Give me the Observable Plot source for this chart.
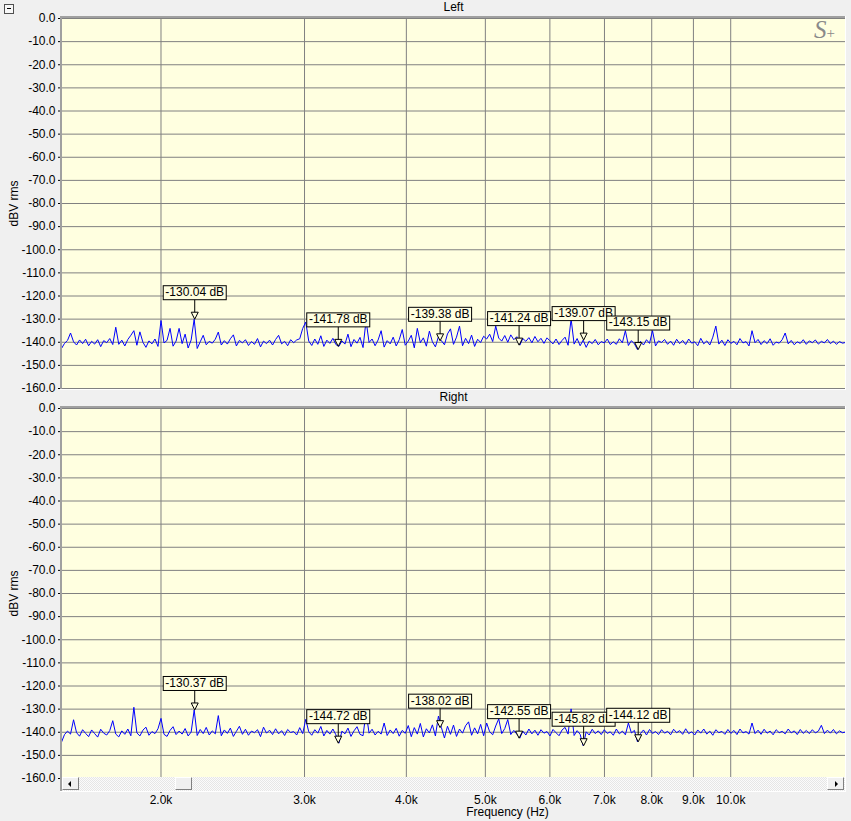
<!DOCTYPE html>
<html>
<head>
<meta charset="utf-8">
<script src="https://cdn.jsdelivr.net/npm/d3@7"></script>
<script src="https://cdn.jsdelivr.net/npm/@observablehq/plot@0.6"></script>
<style>
html, body { margin: 0; padding: 0; background: #f0f0f0; }
#root { position: relative; width: 851px; height: 821px; overflow: hidden; background: #f0f0f0; font-family: "Liberation Sans", Arial, sans-serif; }
.abs { position: absolute; }
</style>
</head>
<body>
<div id="root"></div>
<script>
// ---------- data ----------
const F_START = 1510, F_END = 13830;              // visible frequency span (Hz), log axis
const xTicks = [2000, 3000, 4000, 5000, 6000, 7000, 8000, 9000, 10000];
const xTickLabels = ["2.0k", "3.0k", "4.0k", "5.0k", "6.0k", "7.0k", "8.0k", "9.0k", "10.0k"];
const yTicks = [0, -10, -20, -30, -40, -50, -60, -70, -80, -90, -100, -110, -120, -130, -140, -150, -160];
const yTickLabels = ["0.0", "-10.0", "-20.0", "-30.0", "-40.0", "-50.0", "-60.0", "-70.0", "-80.0", "-90.0", "-100.0", "-110.0", "-120.0", "-130.0", "-140.0", "-150.0", "-160.0"];
const panelTitles = ["Left", "Right"];
const yLabel = "dBV rms";
const xLabel = "Frequency (Hz)";

// spectrum levels (dBV rms), log-spaced display points across the span
const leftLevels = [
  -142.7, -140.5, -139.2, -136.0, -139.8, -141.2, -139.0, -140.6, -138.7, -141.5,
  -139.6, -140.8, -138.9, -141.9, -139.3, -140.2, -138.4, -141.0, -133.5, -140.9,
  -139.1, -141.6, -138.8, -137.0, -135.0, -141.3, -135.5, -140.0, -142.2, -139.4,
  -140.7, -138.6, -141.8, -130.6, -140.3, -139.2, -134.0, -141.7, -139.5, -134.0,
  -140.6, -136.5, -142.5, -139.0, -130.04, -142.7, -139.8, -137.0, -141.1, -139.6,
  -140.4, -138.7, -135.6, -141.2, -139.3, -140.8, -138.5, -136.8, -141.6, -139.2,
  -140.3, -138.9, -141.4, -139.7, -140.9, -138.4, -142.0, -139.5, -140.6, -139.1,
  -141.2, -138.8, -137.0, -140.7, -139.6, -141.5, -138.9, -140.2, -139.0, -138.5,
  -134.0, -131.3, -139.5, -141.4, -138.6, -140.9, -137.2, -141.8, -139.1, -140.5,
  -138.3, -141.0, -141.78, -139.4, -140.8, -136.5, -141.9, -138.8, -140.4, -137.9,
  -142.3, -130.6, -140.1, -138.6, -141.5, -139.0, -135.0, -142.1, -139.3, -140.7,
  -137.8, -141.6, -138.9, -134.5, -141.3, -139.5, -137.0, -142.4, -134.0, -140.2,
  -138.1, -141.7, -135.2, -139.8, -142.0, -137.6, -139.38, -141.1, -136.4, -134.2,
  -140.9, -137.8, -133.0, -141.5, -138.3, -140.6, -136.9, -141.8, -138.7, -140.1,
  -137.4, -138.6, -136.5, -139.7, -133.0, -138.2, -139.5, -137.1, -140.0, -136.8,
  -138.9, -137.6, -141.24, -138.4, -139.6, -138.0, -140.2, -137.5, -139.8, -138.3,
  -140.5, -138.1, -139.4, -140.7, -138.6, -141.0, -139.2, -137.8, -141.3, -129.9,
  -140.8, -138.4, -141.5, -139.07, -142.2, -139.5, -140.6, -138.8, -141.1, -139.7,
  -140.3, -138.6, -141.0, -139.8, -140.9, -138.5, -140.2, -135.0, -141.4, -139.3,
  -140.7, -143.15, -139.6, -141.2, -138.9, -140.5, -135.0, -141.6, -139.4, -140.1,
  -138.8, -140.9, -139.5, -141.3, -138.7, -140.6, -139.2, -141.0, -138.6, -140.4,
  -139.8, -141.5, -138.3, -140.7, -139.4, -141.2, -137.8, -133.0, -140.8, -139.1,
  -141.4, -138.9, -140.5, -139.6, -141.1, -138.4, -140.3, -139.7, -141.6, -135.0,
  -140.2, -138.8, -141.0, -139.3, -140.6, -138.5, -141.3, -139.9, -140.4, -138.9,
  -136.0, -140.7, -139.2, -141.1, -139.8, -140.5, -138.9, -140.9, -139.4, -140.2,
  -139.0, -140.8, -139.6, -140.3, -138.8, -140.6, -139.5, -140.9, -139.7, -140.4, -140.1
];
const rightLevels = [
  -144.3, -141.0, -139.5, -140.8, -134.6, -140.2, -141.7, -138.9, -140.5, -141.9,
  -139.0, -140.6, -142.1, -138.7, -140.4, -141.2, -139.3, -135.0, -140.8, -142.0,
  -139.4, -140.9, -138.6, -141.5, -129.2, -140.3, -141.6, -139.1, -137.8, -141.3,
  -139.7, -140.6, -138.5, -134.0, -140.9, -141.8, -139.2, -137.6, -141.0, -139.5,
  -140.8, -138.4, -141.6, -139.9, -130.37, -141.4, -138.8, -140.6, -137.9, -141.2,
  -139.4, -140.7, -132.8, -141.5, -139.0, -140.5, -138.2, -141.8, -139.6, -137.4,
  -140.9, -138.7, -141.3, -139.5, -140.2, -138.9, -141.9, -137.8, -140.4, -139.1,
  -141.0, -138.5, -140.7, -139.3, -141.4, -138.8, -140.1, -139.7, -141.2, -138.0,
  -140.6, -134.4, -139.8, -141.3, -138.9, -140.4, -137.5, -141.6, -139.2, -140.8,
  -138.6, -141.1, -144.72, -139.5, -140.7, -138.2, -141.8, -139.4, -137.6, -140.9,
  -141.5, -131.3, -140.4, -138.7, -141.2, -139.6, -140.8, -136.0, -141.4, -139.0,
  -140.6, -138.3, -141.7, -139.2, -140.5, -137.1, -141.9, -138.0, -140.8, -136.2,
  -142.0, -138.5, -140.3, -136.8, -141.6, -133.0, -138.02, -142.5, -137.4, -140.9,
  -136.9, -141.8, -138.6, -140.4, -137.2, -135.5, -141.3, -138.1, -140.7, -136.6,
  -141.5, -136.0, -139.8, -141.1, -137.3, -134.2, -140.6, -138.4, -134.5, -141.0,
  -139.2, -140.8, -142.55, -139.5, -141.2, -138.6, -140.7, -139.1, -141.3, -138.9,
  -140.4, -139.7, -141.6, -138.8, -140.2, -141.5, -139.0, -137.9, -140.8, -129.9,
  -141.4, -139.3, -140.9, -145.82, -139.8, -141.2, -138.7, -140.6, -139.4, -141.0,
  -138.9, -140.5, -139.8, -141.3, -138.6, -140.7, -139.5, -141.1, -136.0, -140.3,
  -139.2, -144.12, -140.6, -139.0, -141.2, -138.8, -140.5, -139.7, -141.0, -138.9,
  -140.4, -139.6, -141.1, -138.7, -140.2, -139.3, -140.9, -138.5, -140.6, -139.8,
  -141.2, -139.0, -140.4, -138.6, -140.8, -139.5, -141.3, -138.9, -140.2, -139.6,
  -140.9, -138.8, -140.5, -139.2, -141.0, -138.6, -140.3, -139.7, -140.8, -136.0,
  -140.6, -139.1, -140.9, -138.7, -140.4, -139.5, -141.1, -138.9, -140.2, -139.6,
  -140.7, -138.6, -140.3, -139.4, -141.0, -138.8, -140.5, -139.2, -140.6, -138.9,
  -140.3, -139.5, -137.0, -140.6, -139.1, -140.4, -138.8, -140.7, -139.4, -140.2, -139.9
];

// harmonic markers
const markerFreqs = [2200, 3300, 4400, 5500, 6600, 7700];
const leftMarkerValues = [-130.04, -141.78, -139.38, -141.24, -139.07, -143.15];
const rightMarkerValues = [-130.37, -144.72, -138.02, -142.55, -145.82, -144.12];

// ---------- drawing ----------
const root = document.getElementById("root");
const FONT = "'Liberation Sans', Arial, sans-serif";

// down-pointing marker triangle with a stem to the label box (tip at the value)
const markerSymbol = {
  draw(ctx) {
    ctx.moveTo(0, -20); ctx.lineTo(0, -7);
    ctx.moveTo(0, 0); ctx.lineTo(-3.5, -7); ctx.lineTo(3.5, -7); ctx.closePath();
  }
};

function panel({title, levels, markerValues, height, marginTop, marginBottom, withXAxis}) {
  const n = levels.length;
  const trace = levels.map((v, i) => ({f: F_START * Math.pow(F_END / F_START, i / (n - 1)), v}));
  const markers = markerFreqs.map((f, i) => ({f, v: markerValues[i], label: markerValues[i].toFixed(2) + " dB"}));
  const marks = [
    Plot.frame({fill: "#ffffe0", stroke: "none"}),
    Plot.gridX(xTicks, {stroke: "#808080", strokeOpacity: 1, strokeWidth: 1}),
    Plot.gridY(yTicks, {stroke: "#808080", strokeOpacity: 1, strokeWidth: 1}),
    Plot.axisY(yTicks, {
      tickFormat: d => yTickLabels[yTicks.indexOf(d)],
      tickSize: 3, tickPadding: 3, fontSize: 12,
      label: yLabel, labelAnchor: "center", labelOffset: 52, labelArrow: "none"
    }),
    Plot.line(trace, {x: "f", y: "v", stroke: "#0000ff", strokeWidth: 1}),
    Plot.dot(markers, {x: "f", y: "v", symbol: markerSymbol, r: 4, fill: "#ffffe0", stroke: "#000", strokeWidth: 1}),
    Plot.text(markers, {x: "f", y: "v", text: "label", dy: -27, fill: "#000", fontSize: 12}),
    Plot.text([title], {frameAnchor: "top", lineAnchor: "middle", dy: -11, fill: "#000", fontSize: 12})
  ];
  if (withXAxis) {
    marks.push(
      Plot.axisX(xTicks, {
        tickFormat: d => xTickLabels[xTicks.indexOf(d)],
        tickSize: 3, tickPadding: 2, dy: 12, fontSize: 12, label: null
      }),
      Plot.text([xLabel], {frameAnchor: "bottom", lineAnchor: "middle", dx: 54, dy: 34, fill: "#000", fontSize: 12})
    );
  }
  return Plot.plot({
    width: 851,
    height,
    marginLeft: 61,
    marginRight: 6,
    marginTop,
    marginBottom,
    style: {background: "transparent", fontFamily: FONT, fontSize: "12px", color: "#000", overflow: "visible"},
    x: {type: "log", domain: [F_START, F_END], axis: null},
    y: {domain: [-160, 0], axis: null},
    marks
  });
}

function place(node, top) {
  node.style.position = "absolute";
  node.style.left = "0px";
  node.style.top = top + "px";
  root.appendChild(node);
}

function addBoxes(svg) {
  const texts = Array.from(svg.querySelectorAll("text")).filter(t => / dB$/.test(t.textContent));
  for (const t of texts) {
    const b = t.getBBox();
    const r = document.createElementNS("http://www.w3.org/2000/svg", "rect");
    r.setAttribute("x", Math.floor(b.x - 2) + 0.5);
    r.setAttribute("y", Math.round(b.y + b.height / 2 - 7) + 0.5);
    r.setAttribute("width", Math.round(b.width + 4));
    r.setAttribute("height", 14);
    r.setAttribute("fill", "#ffffe0");
    r.setAttribute("stroke", "#000");
    r.setAttribute("stroke-width", 1);
    const tr = t.getAttribute("transform");
    if (tr) r.setAttribute("transform", tr);
    t.parentNode.insertBefore(r, t);
  }
}

const top1 = panel({title: panelTitles[0], levels: leftLevels, markerValues: leftMarkerValues,
  height: 395, marginTop: 18, marginBottom: 7, withXAxis: false});
place(top1, 0);
addBoxes(top1);

const top2 = panel({title: panelTitles[1], levels: rightLevels, markerValues: rightMarkerValues,
  height: 426, marginTop: 13, marginBottom: 43, withXAxis: true});
place(top2, 395);
addBoxes(top2);

// ---------- window chrome (frame bevels, scrollbar, logo) ----------
function div(style, html) {
  const d = document.createElement("div");
  d.className = "abs";
  Object.assign(d.style, style);
  if (html) d.innerHTML = html;
  root.appendChild(d);
  return d;
}
// top panel frame
div({left: "60px", top: "16px", width: "786px", height: "2px", background: "#a0a0a0"});
div({left: "60px", top: "16px", width: "2px", height: "373px", background: "#a0a0a0"});
div({left: "60px", top: "389px", width: "786px", height: "1px", background: "#ffffff"});
div({left: "845px", top: "16px", width: "1px", height: "374px", background: "#ffffff"});
// bottom panel frame
div({left: "60px", top: "406px", width: "786px", height: "2px", background: "#a0a0a0"});
div({left: "60px", top: "406px", width: "2px", height: "385px", background: "#a0a0a0"});
div({left: "60px", top: "791px", width: "786px", height: "1px", background: "#ffffff"});
div({left: "845px", top: "406px", width: "1px", height: "386px", background: "#ffffff"});
// scrollbar
div({left: "62px", top: "777px", width: "783px", height: "14px",
  background: "repeating-conic-gradient(#e6e6e6 0 25%, #fbfbfb 0 50%) 0 0 / 2px 2px"});
const btn = {width: "15px", height: "11px", background: "#f0f0f0",
  borderTop: "1px solid #ffffff", borderLeft: "1px solid #ffffff",
  borderRight: "1px solid #808080", borderBottom: "1px solid #808080", boxSizing: "content-box"};
const lb = div(Object.assign({left: "62px", top: "777px"}, btn));
lb.appendChild(Object.assign(document.createElement("div"), {style: "position:absolute;left:5px;top:3px;width:0;height:0;border-top:3px solid transparent;border-bottom:3px solid transparent;border-right:3px solid #000;"}));
div(Object.assign({left: "175px", top: "777px"}, btn));
const rb = div(Object.assign({left: "827px", top: "777px"}, btn));
rb.appendChild(Object.assign(document.createElement("div"), {style: "position:absolute;left:7px;top:3px;width:0;height:0;border-top:3px solid transparent;border-bottom:3px solid transparent;border-left:3px solid #000;"}));
// collapse box
const cb = div({left: "4px", top: "4px", width: "8px", height: "8px", border: "1px solid #505050", background: "#f8f8f8"});
cb.appendChild(Object.assign(document.createElement("div"), {style: "position:absolute;left:2px;top:3px;width:4px;height:1px;background:#000;"}));
// logo
div({left: "814px", top: "17px", color: "#8a8a8a", fontFamily: "'Liberation Serif', 'DejaVu Serif', serif",
  fontStyle: "italic", lineHeight: "1", whiteSpace: "nowrap"},
  '<span style="font-size:25px">S</span><span style="font-size:15px;font-style:normal">+</span>');
</script>
</body>
</html>
